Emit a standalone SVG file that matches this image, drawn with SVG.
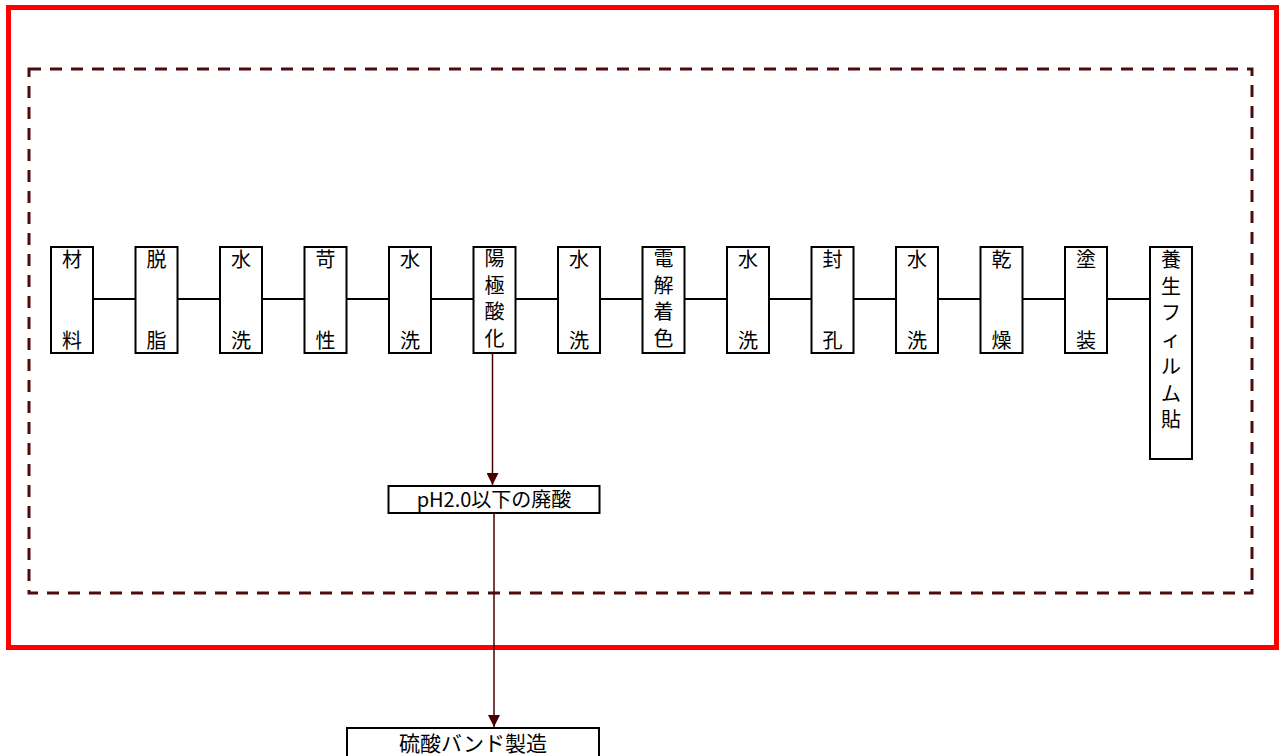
<svg xmlns="http://www.w3.org/2000/svg" width="1282" height="756" viewBox="0 0 1282 756">
<defs>
<style>
.bx{fill:#fff;stroke:#000;stroke-width:2}
.t{font-family:"Noto Sans CJK JP","Noto Sans CJK SC",sans-serif;font-size:20px;fill:#000;text-anchor:middle}
.t2{font-family:"Noto Sans CJK JP","Noto Sans CJK SC",sans-serif;font-size:20px;fill:#000;text-anchor:middle}
.t3{font-family:"Noto Sans CJK JP","Noto Sans CJK SC",sans-serif;font-size:21px;fill:#000;text-anchor:middle}
.ln{stroke:#000;stroke-width:2;fill:none}
.ar{stroke:#4a0000;stroke-width:1.5;fill:none}
</style>
<marker id="ah" markerWidth="12" markerHeight="12" refX="12" refY="6" orient="auto" markerUnits="userSpaceOnUse">
<path d="M0,0 L12,6 L0,12 Z" fill="#4a0000"/>
</marker>
</defs>
<rect x="8.5" y="7.5" width="1268" height="640" fill="none" stroke="#ff0000" stroke-width="5"/>
<rect x="29" y="69" width="1223" height="524" fill="none" stroke="#4c0c0c" stroke-width="3" stroke-dasharray="12,9"/>
<g id="connectors">
<line class="ln" x1="93" y1="299" x2="1150" y2="299"/>
<line class="ar" x1="492.5" y1="353" x2="492.5" y2="485" marker-end="url(#ah)"/>
<line class="ar" x1="494" y1="513" x2="494" y2="727" marker-end="url(#ah)"/>
</g>
<g id="n1"><rect class="bx" x="51" y="247" width="42" height="106"/><text class="t" x="72" y="267">材</text><text class="t" x="72" y="348">料</text></g>
<g id="n2"><rect class="bx" x="135.5" y="247" width="42" height="106"/><text class="t" x="156.5" y="267">脱</text><text class="t" x="156.5" y="348">脂</text></g>
<g id="n3"><rect class="bx" x="220" y="247" width="42" height="106"/><text class="t" x="241" y="267">水</text><text class="t" x="241" y="348">洗</text></g>
<g id="n4"><rect class="bx" x="304.5" y="247" width="42" height="106"/><text class="t" x="325.5" y="267">苛</text><text class="t" x="325.5" y="348">性</text></g>
<g id="n5"><rect class="bx" x="389" y="247" width="42" height="106"/><text class="t" x="410" y="267">水</text><text class="t" x="410" y="348">洗</text></g>
<g id="n6"><rect class="bx" x="473.5" y="247" width="42" height="106"/><text class="t" x="494.5" y="266">陽</text><text class="t" x="494.5" y="292.7">極</text><text class="t" x="494.5" y="319.4">酸</text><text class="t" x="494.5" y="346.1">化</text></g>
<g id="n7"><rect class="bx" x="558" y="247" width="42" height="106"/><text class="t" x="579" y="267">水</text><text class="t" x="579" y="348">洗</text></g>
<g id="n8"><rect class="bx" x="642.5" y="247" width="42" height="106"/><text class="t" x="663.5" y="266">電</text><text class="t" x="663.5" y="292.7">解</text><text class="t" x="663.5" y="319.4">着</text><text class="t" x="663.5" y="346.1">色</text></g>
<g id="n9"><rect class="bx" x="727" y="247" width="42" height="106"/><text class="t" x="748" y="267">水</text><text class="t" x="748" y="348">洗</text></g>
<g id="n10"><rect class="bx" x="811.5" y="247" width="42" height="106"/><text class="t" x="832.5" y="267">封</text><text class="t" x="832.5" y="348">孔</text></g>
<g id="n11"><rect class="bx" x="896" y="247" width="42" height="106"/><text class="t" x="917" y="267">水</text><text class="t" x="917" y="348">洗</text></g>
<g id="n12"><rect class="bx" x="980.5" y="247" width="42" height="106"/><text class="t" x="1001.5" y="267">乾</text><text class="t" x="1001.5" y="348">燥</text></g>
<g id="n13"><rect class="bx" x="1065" y="247" width="42" height="106"/><text class="t" x="1086" y="267">塗</text><text class="t" x="1086" y="348">装</text></g>
<g id="n14"><rect class="bx" x="1150" y="247" width="42" height="212"/><text class="t" x="1171" y="267">養</text><text class="t" x="1171" y="293.7">生</text><text class="t" x="1171" y="320.4">フ</text><text class="t" x="1171" y="347.1">ィ</text><text class="t" x="1171" y="373.8">ル</text><text class="t" x="1171" y="400.5">ム</text><text class="t" x="1171" y="427.2">貼</text></g>
<g id="n15"><rect class="bx" x="388.5" y="486" width="211" height="27"/><text class="t2" x="494" y="507">pH2.0以下の廃酸</text></g>
<g id="n16"><rect class="bx" x="347" y="728" width="252" height="40"/><text class="t3" x="473" y="751">硫酸バンド製造</text></g>
</svg>
